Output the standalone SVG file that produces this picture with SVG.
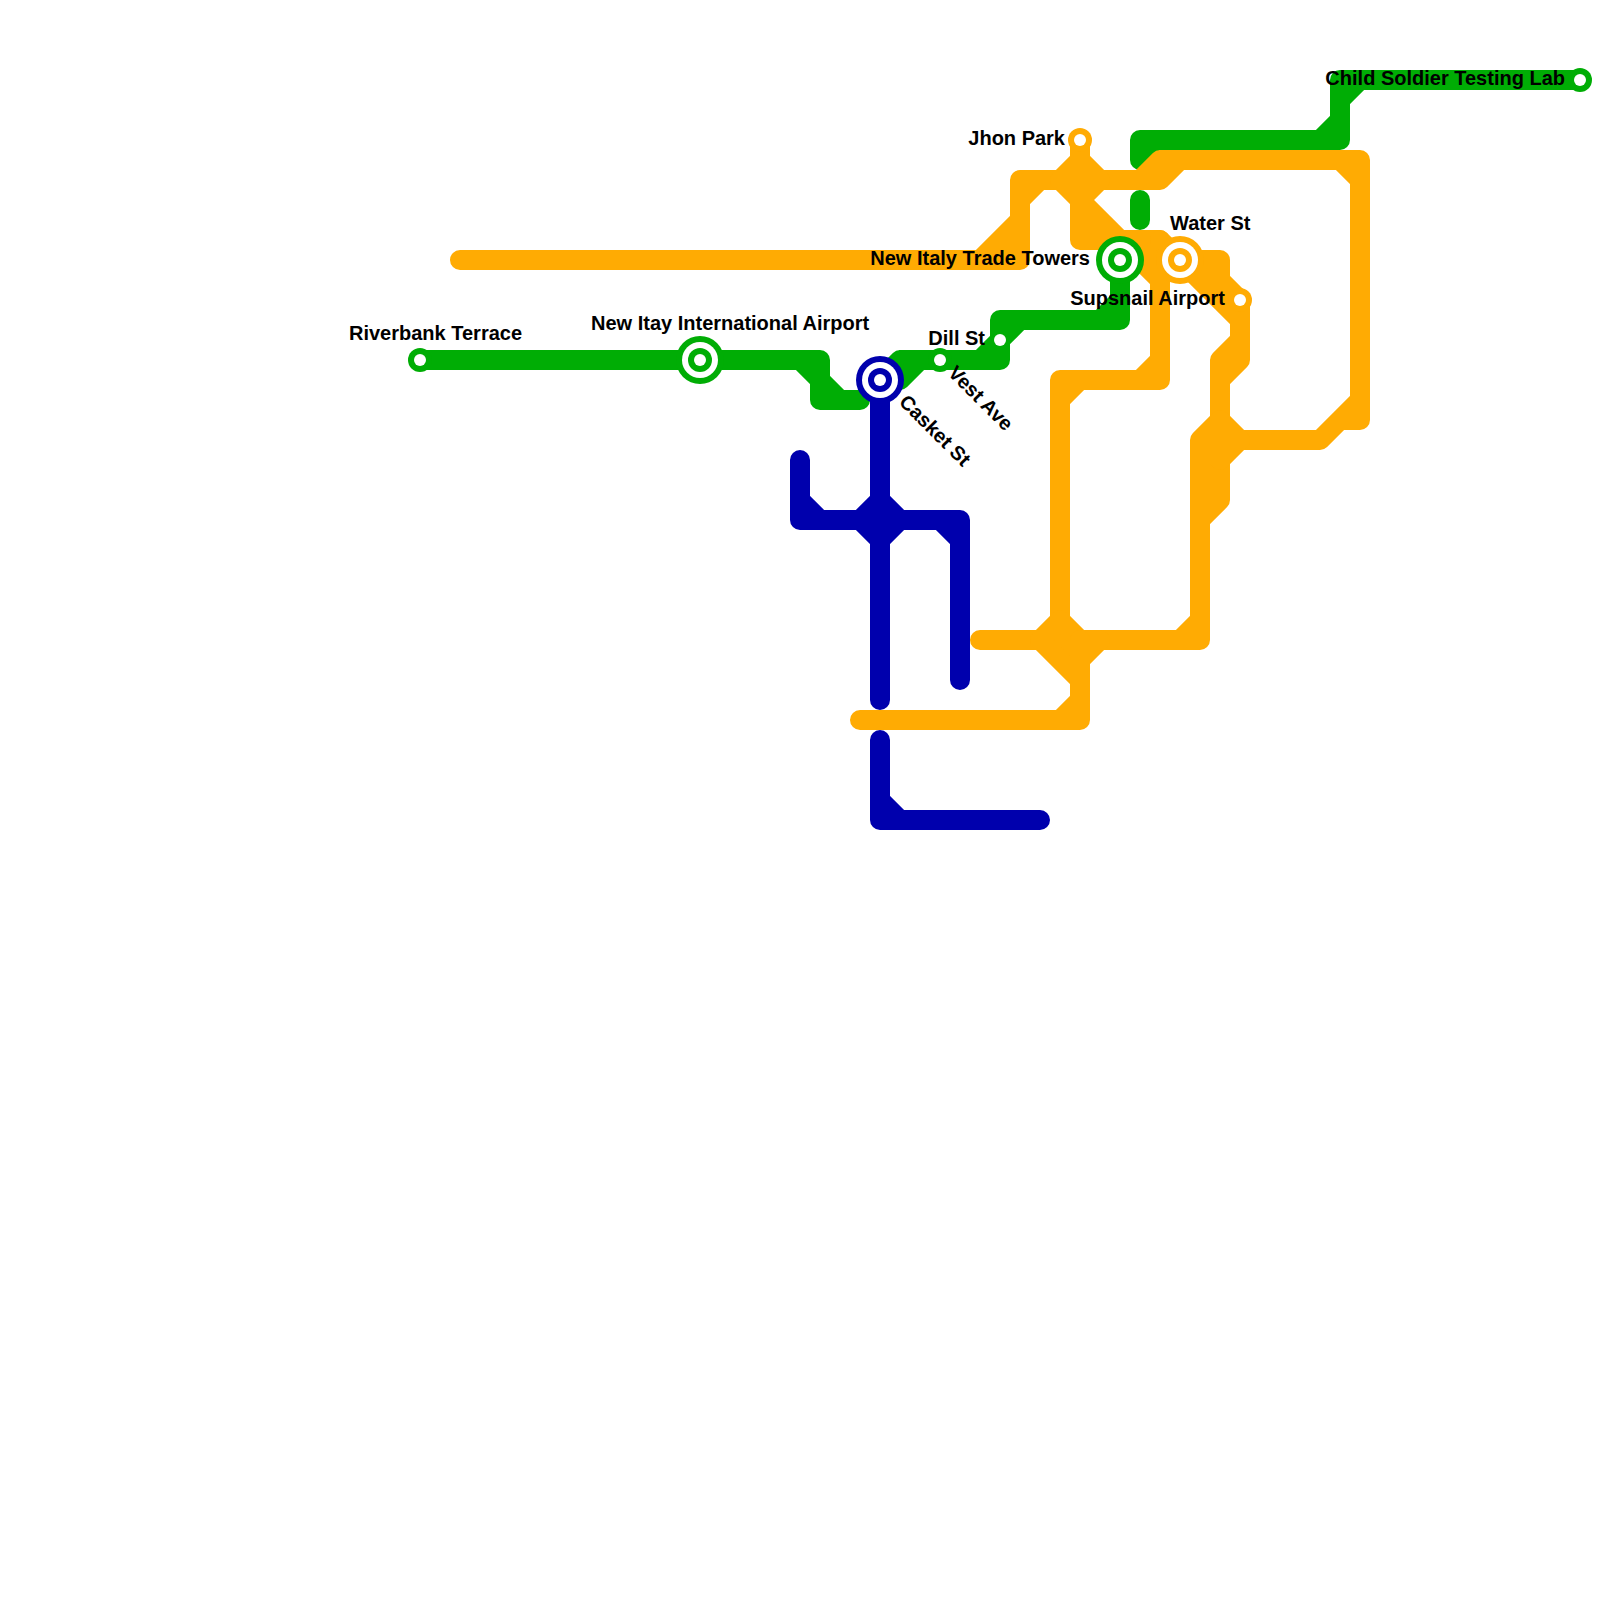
<svg xmlns="http://www.w3.org/2000/svg" width="1600" height="1600" viewBox="0 0 1600 1600">
<style>
.l{fill:none;stroke-width:20;stroke-linecap:round;stroke-linejoin:round}
.g{stroke:#00ad05}.b{stroke:#0000ad}.o{stroke:#ffab03}
.fg{fill:#00ad05}.fb{fill:#0000ad}.fo{fill:#ffab03}.w{fill:#fff}
text{font-family:"Liberation Sans",Arial,sans-serif;font-size:20px;font-weight:700;fill:#000}
.e{text-anchor:end}
</style>
<rect width="1600" height="1600" fill="#fff"/>
<g id="connectors">
<path class="l g" d="M420,360H820V400H860M800,360L820,380M820,380L840,400"/>
<path class="l g" d="M880,380H900V360H1000V320H1120V260M880,380L900,360M900,380L920,360M980,360L1000,340M1000,340L1020,320M1100,320L1120,300"/>
<path class="l g" d="M1140,160V140H1340V80H1580M1140,160L1160,140M1320,140L1340,120M1340,100L1360,80M1140,200V220"/>
<path class="l b" d="M880,380V700M800,460V520H960V680M800,500L820,520M940,520L960,540M860,520L880,500L900,520L880,540ZM880,740V820H1040M880,800L900,820"/>
<path class="l o" d="M460,260H1020V180H1160V160H1360V420H1340L1320,440H1220M1000,260L1020,240M1020,220L980,260M1040,180L1020,200M1140,180L1160,160M1160,180L1180,160M1340,160L1360,180M1340,420L1360,400"/>
<path class="l o" d="M1080,140V240H1160V380H1060V640M1060,180L1080,160L1100,180L1080,200ZM1080,200L1160,280M1080,220L1100,240M1140,240L1160,260M1140,380L1160,360M1080,380L1060,400"/>
<path class="l o" d="M1160,240L1240,320M1180,260H1220V300H1240V360H1220V500L1200,520M1200,260L1220,280M1220,280L1240,300M1240,340L1220,360M1240,360L1220,380"/>
<path class="l o" d="M1200,440L1220,420L1240,440L1220,460ZM1240,440H1220M1200,440V640H980M1180,640L1200,620M1200,460L1220,440"/>
<path class="l o fo" d="M1040,640L1060,620L1080,640L1100,640L1080,660L1080,680Z"/>
<path class="l o" d="M1080,640V720H860M1060,720L1080,700"/>
</g>
<g id="riverbank-terrace"><circle cx="420" cy="360" r="12" class="fg"/><circle cx="420" cy="360" r="6" class="w"/><text x="349" y="340">Riverbank Terrace</text></g>
<g id="new-itay-airport"><circle cx="700" cy="360" r="24" class="fg"/><circle cx="700" cy="360" r="18" class="w"/><circle cx="700" cy="360" r="12" class="fg"/><circle cx="700" cy="360" r="6" class="w"/><text x="591" y="330">New Itay International Airport</text></g>
<g id="casket-st"><circle cx="880" cy="380" r="24" class="fb"/><circle cx="880" cy="380" r="18" class="w"/><circle cx="880" cy="380" r="12" class="fb"/><circle cx="880" cy="380" r="6" class="w"/><text transform="translate(898,403) rotate(45)">Casket St</text></g>
<g id="vest-ave"><circle cx="940" cy="360" r="12" class="fg"/><circle cx="940" cy="360" r="6" class="w"/><text transform="translate(947,374) rotate(45)">Vest Ave</text></g>
<g id="dill-st"><circle cx="1000" cy="340" r="6" class="w"/><text class="e" x="985" y="345">Dill St</text></g>
<g id="new-italy-trade-towers"><circle cx="1120" cy="260" r="24" class="fg"/><circle cx="1120" cy="260" r="18" class="w"/><circle cx="1120" cy="260" r="12" class="fg"/><circle cx="1120" cy="260" r="6" class="w"/><text class="e" x="1090" y="265">New Italy Trade Towers</text></g>
<g id="water-st"><circle cx="1180" cy="260" r="24" class="fo"/><circle cx="1180" cy="260" r="18" class="w"/><circle cx="1180" cy="260" r="12" class="fo"/><circle cx="1180" cy="260" r="6" class="w"/><text x="1170" y="230">Water St</text></g>
<g id="supsnail-airport"><circle cx="1240" cy="300" r="12" class="fo"/><circle cx="1240" cy="300" r="6" class="w"/><text class="e" x="1225" y="305">Supsnail Airport</text></g>
<g id="jhon-park"><circle cx="1080" cy="140" r="12" class="fo"/><circle cx="1080" cy="140" r="6" class="w"/><text class="e" x="1065" y="145">Jhon Park</text></g>
<g id="child-soldier-testing-lab"><circle cx="1580" cy="80" r="12" class="fg"/><circle cx="1580" cy="80" r="6" class="w"/><text class="e" x="1565" y="85">Child Soldier Testing Lab</text></g>
</svg>
